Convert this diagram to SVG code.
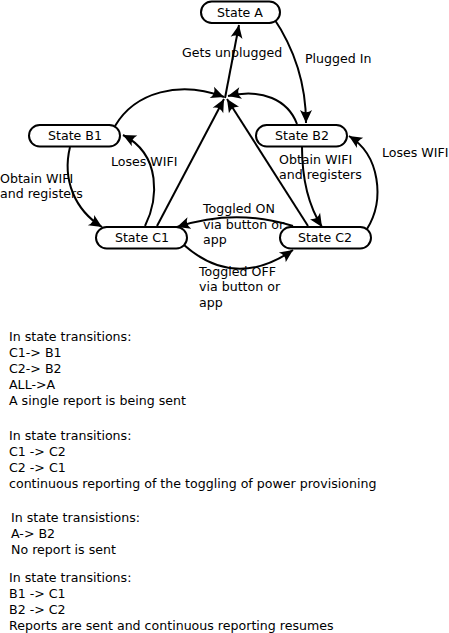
<svg xmlns="http://www.w3.org/2000/svg" width="449" height="633" viewBox="0 0 449 633">
<style>
text{font-family:"DejaVu Sans","Liberation Sans",sans-serif;font-size:12.6px;fill:#000}
.node rect{fill:#fff;stroke:#000;stroke-width:2}
.node text{text-anchor:middle}
.edge{fill:none;stroke:#000;stroke-width:2;marker-end:url(#arr)}
</style>
<defs>
<marker id="arr" viewBox="-14 -7 15 14" markerWidth="15" markerHeight="14" refX="0" refY="0" orient="auto" markerUnits="userSpaceOnUse">
<path d="M0,0 L-13,-6 Q-8.5,0 -13,6 Z" fill="#000"/>
</marker>
</defs>
<rect width="449" height="633" fill="#fff"/>
<g id="connectors">
<path class="edge" d="M225,98 L239,25"/>
<path class="edge" d="M273,17 C292,45 306,80 306,123"/>
<path class="edge" d="M115,126 C135,92 180,80 224,97"/>
<path class="edge" d="M297,124 C288,100 262,88 228,96"/>
<path class="edge" d="M157,226 L224,99"/>
<path class="edge" d="M308,226 L227,99"/>
<path class="edge" d="M70,147 C62,180 75,210 102,227"/>
<path class="edge" d="M145,226 C158,200 162,155 123,135"/>
<path class="edge" d="M302,147 C302,180 308,205 322,227"/>
<path class="edge" d="M367,229 C385,200 380,155 349,136"/>
<path class="edge" d="M293,226 Q235,208 177,227"/>
<path class="edge" d="M184,245 Q235,290 293,250"/>
<text x="182" y="57">Gets unplugged</text>
<text x="305" y="63">Plugged In</text>
<text x="111" y="166">Loses WIFI</text>
<text x="0" y="183">Obtain WIFI</text>
<text x="0" y="198">and registers</text>
<text x="279" y="164">Obtain WIFI</text>
<text x="279" y="179">and registers</text>
<text x="382" y="157">Loses WIFI</text>
<text x="203" y="213">Toggled ON</text>
<text x="203" y="229">via button or</text>
<text x="203" y="244">app</text>
<text x="199" y="276">Toggled OFF</text>
<text x="199" y="291">via button or</text>
<text x="199" y="307">app</text>
</g>
<g id="stateA" class="node"><rect x="201" y="1.5" width="79" height="21.5" rx="10.75"/><text x="240" y="17">State A</text></g>
<g id="stateB1" class="node"><rect x="29" y="125" width="91" height="21.5" rx="10.75"/><text x="75" y="140">State B1</text></g>
<g id="stateB2" class="node"><rect x="256" y="125" width="91" height="21.5" rx="10.75"/><text x="302" y="140">State B2</text></g>
<g id="stateC1" class="node"><rect x="96" y="227" width="91" height="21.5" rx="10.75"/><text x="142" y="242">State C1</text></g>
<g id="stateC2" class="node"><rect x="280" y="227" width="91" height="21.5" rx="10.75"/><text x="325" y="242">State C2</text></g>
<g id="notes">
<text x="9" y="341">In state transitions:</text>
<text x="9" y="357">C1-&gt; B1</text>
<text x="9" y="373">C2-&gt; B2</text>
<text x="9" y="389">ALL-&gt;A</text>
<text x="9" y="405">A single report is being sent</text>
<text x="9" y="440">In state transitions:</text>
<text x="9" y="456">C1 -&gt; C2</text>
<text x="9" y="472">C2 -&gt; C1</text>
<text x="9" y="488">continuous reporting of the toggling of power provisioning</text>
<text x="11" y="522">In state transistions:</text>
<text x="11" y="538">A-&gt; B2</text>
<text x="11" y="554">No report is sent</text>
<text x="9" y="582">In state transitions:</text>
<text x="9" y="598">B1 -&gt; C1</text>
<text x="9" y="614">B2 -&gt; C2</text>
<text x="9" y="630">Reports are sent and continuous reporting resumes</text>
</g>
</svg>
